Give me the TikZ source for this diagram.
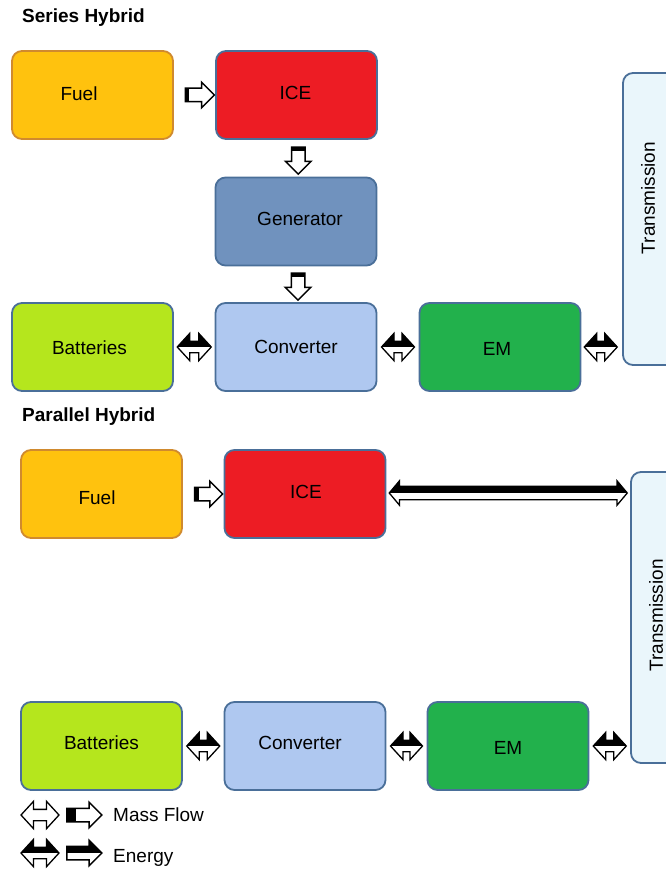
\documentclass[tikz,border=0pt]{standalone}
\usepackage{fontspec}
\setmainfont{Liberation Sans}
\usetikzlibrary{shapes.arrows,calc}
\definecolor{fuelfill}{HTML}{FFC20E}
\definecolor{fueledge}{HTML}{D08A2E}
\definecolor{icefill}{HTML}{ED1C24}
\definecolor{genfill}{HTML}{7092BE}
\definecolor{battfill}{HTML}{B5E61D}
\definecolor{convfill}{HTML}{AFC8F0}
\definecolor{emfill}{HTML}{22B14C}
\definecolor{transfill}{HTML}{EAF6FB}
\definecolor{boxedge}{HTML}{4A6F99}
\begin{document}
\begin{tikzpicture}[x=1pt,y=-1pt,
  font=\fontsize{19}{22}\selectfont,
  box/.style={draw=boxedge, line width=1.8pt, rounded corners=10pt,
    minimum width=161pt, minimum height=88pt, inner sep=0pt},
  transbox/.style={draw=boxedge, line width=1.8pt, rounded corners=10pt,
    minimum width=57pt, minimum height=292pt, inner sep=0pt, fill=transfill},
  lbl/.style={inner sep=0pt, anchor=center},
  heading/.style={inner sep=0pt, anchor=west, font=\fontsize{19}{22}\selectfont\bfseries},
  energydbl/.style={double arrow, draw=black, line width=1.3pt, fill=white,
    inner xsep=0pt, inner ysep=5pt, double arrow head extend=8pt,
    double arrow tip angle=95, minimum height=#1,
    path picture={\fill[black] (path picture bounding box.north west) rectangle (path picture bounding box.east);}},
  massdbl/.style={double arrow, draw=black, line width=1.3pt, fill=white,
    inner xsep=0pt, inner ysep=5pt, double arrow head extend=8pt,
    double arrow tip angle=95, minimum height=#1},
  massright/.style={single arrow, draw=black, line width=1.5pt, fill=white,
    inner xsep=0pt, inner ysep=6pt, single arrow head extend=6pt,
    minimum height=#1,
    path picture={\fill[black] (path picture bounding box.north west) rectangle ($(path picture bounding box.south west)+(4pt,0pt)$);}},
  massdown/.style={single arrow, draw=black, line width=1.5pt, fill=white,
    inner ysep=0pt, inner xsep=6pt, single arrow head extend=6pt,
    shape border rotate=270, minimum height=#1,
    path picture={\fill[black] (path picture bounding box.north west) rectangle ($(path picture bounding box.north east)+(0pt,-4pt)$);}},
  energyright/.style={single arrow, draw=black, line width=1.5pt, fill=white,
    inner xsep=0pt, inner ysep=6pt, single arrow head extend=6pt,
    minimum height=#1,
    path picture={\fill[black] (path picture bounding box.north west) rectangle (path picture bounding box.east);}},
  legendmass/.style={single arrow, draw=black, line width=1.5pt, fill=white,
    inner xsep=0pt, inner ysep=6pt, single arrow head extend=6pt,
    minimum height=#1,
    path picture={\fill[black] (path picture bounding box.north west) rectangle ($(path picture bounding box.south west)+(9pt,0pt)$);}},
]
\clip (0,0) rectangle (666,872);
\fill[white] (0,0) rectangle (666,872);

% ---------- Series Hybrid ----------
\node[heading] (sh) at (22,18) {Series Hybrid};
\node[box, draw=fueledge, fill=fuelfill] (sfuel) at (92.5,95) {};
\node[lbl] at ($(sfuel.center)+(-13.5,-1)$) {Fuel};
\node[box, fill=icefill] (sice) at (296.5,95) {};
\node[lbl] at ($(sice.center)+(-1,-2)$) {ICE};
\node[box, fill=genfill] (sgen) at (296,221.5) {};
\node[lbl] at ($(sgen.center)+(4,-3)$) {Generator};
\node[box, fill=battfill] (sbatt) at (92.5,347) {};
\node[lbl] at ($(sbatt.center)+(-3,1)$) {Batteries};
\node[box, fill=convfill] (sconv) at (296,347) {};
\node[lbl] at ($(sconv.center)+(0,0)$) {Converter};
\node[box, fill=emfill] (sem) at (500,347) {};
\node[lbl] at ($(sem.center)+(-3,2)$) {EM};
\node[transbox] (strans) at (651.5,219) {};
\node[lbl, rotate=90] at ($(strans.center)+(-3.5,-21)$) {Transmission};

\node[massright=29pt] (sa1) at ($(sfuel.east)!0.5!(sice.west)+(2,0)$) {};
\node[massdown=27pt] (sa2) at ($(sice.south)!0.5!(sgen.north)+(2,-1)$) {};
\node[massdown=27pt] (sa3) at ($(sgen.south)!0.5!(sconv.north)+(2,-1)$) {};
\node[energydbl=34pt] (sa4) at ($(sbatt.east)!0.5!(sconv.west)$) {};
\node[energydbl=33pt] (sa5) at ($(sconv.east)!0.5!(sem.west)$) {};
\node[energydbl=33pt] (sa6) at ($(sem.east)!0.5!(strans.west |- sem.east)+(-1,0)$) {};

% ---------- Parallel Hybrid ----------
\node[heading] (ph) at (22,417) {Parallel Hybrid};
\node[box, draw=fueledge, fill=fuelfill] (pfuel) at (101.5,494) {};
\node[lbl] at ($(pfuel.center)+(-4.5,4)$) {Fuel};
\node[box, fill=icefill] (pice) at (305,494) {};
\node[lbl] at ($(pice.center)+(1,-2)$) {ICE};
\node[box, fill=battfill] (pbatt) at (101.5,746) {};
\node[lbl] at ($(pbatt.center)+(0,-3)$) {Batteries};
\node[box, fill=convfill] (pconv) at (305,746) {};
\node[lbl] at ($(pconv.center)+(-5,-3)$) {Converter};
\node[box, fill=emfill] (pem) at (508,746) {};
\node[lbl] at ($(pem.center)+(0,2)$) {EM};
\node[transbox, minimum height=291pt] (ptrans) at (659.5,617.5) {};
\node[lbl, rotate=90] at ($(ptrans.center)+(-3.5,-2)$) {Transmission};

\node[massright=28pt] (pa1) at ($(pfuel.east)!0.5!(pice.west)+(2,0)$) {};
\node[energydbl=238pt, double arrow head extend=5.5pt, inner ysep=6pt, double arrow tip angle=100] (pa2) at ($(pice.east)!0.5!(ptrans.west |- pice.east)+(0,-1)$) {};
\node[energydbl=33pt] (pa3) at ($(pbatt.east)!0.5!(pconv.west)$) {};
\node[energydbl=32pt] (pa4) at ($(pconv.east)!0.5!(pem.west)$) {};
\node[energydbl=33pt] (pa5) at ($(pem.east)!0.5!(ptrans.west |- pem.east)$) {};

% ---------- Legend ----------
\node[massdbl=38pt] (lg1) at (40,815) {};
\node[legendmass=35pt] (lg2) at (81,815) {};
\node[lbl, anchor=west] (lg3) at (113,815) {Mass Flow};
\node[energydbl=38pt] (lg4) at (40,853) {};
\node[energyright=35pt] (lg5) at (81,853) {};
\node[lbl, anchor=west] (lg6) at (113,858) {Energy};
\end{tikzpicture}
\end{document}
